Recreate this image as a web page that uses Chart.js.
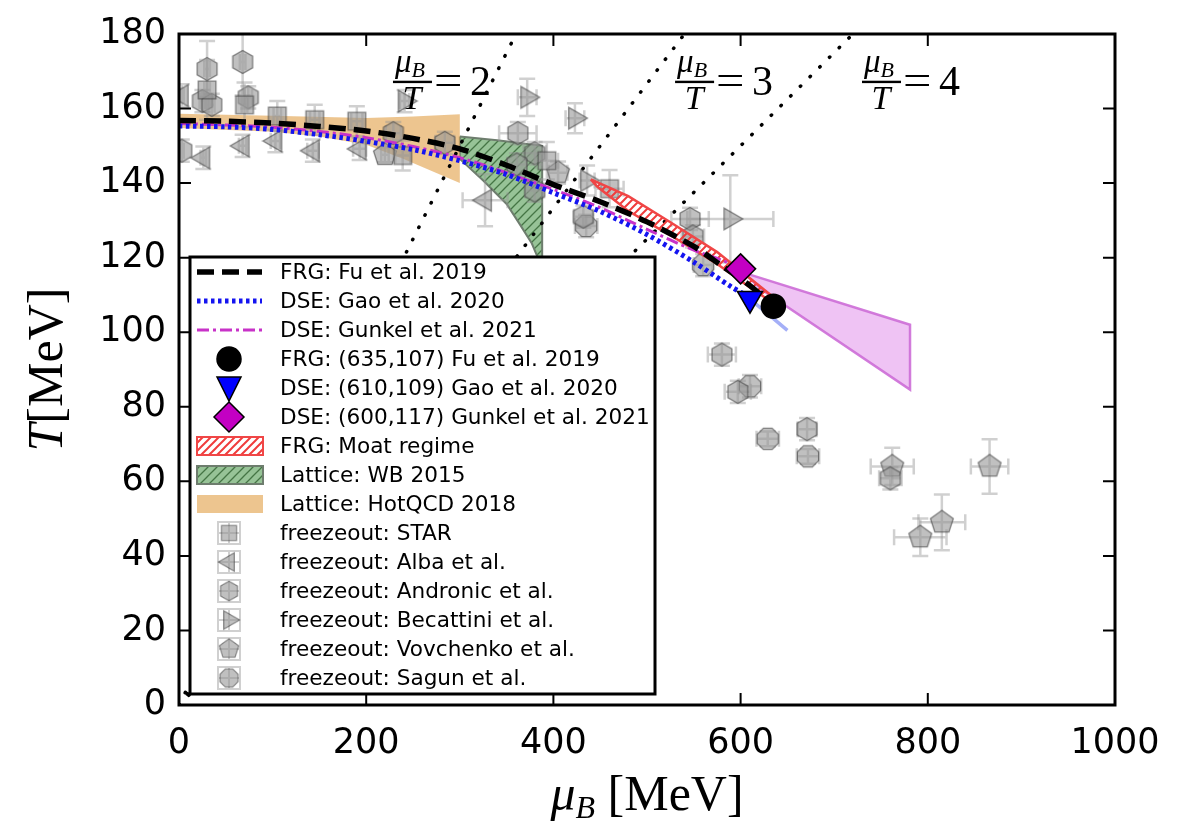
<!DOCTYPE html>
<html lang="en">
<head>
<meta charset="UTF-8">
<title>QCD phase diagram</title>
<script src="https://cdn.jsdelivr.net/npm/chart.js"></script>
<style>
  body { margin: 0; background: #fff; }
  canvas { display: block; }
</style>
</head>
<body>
<canvas id="phaseChart" width="1187" height="827"></canvas>
<script>
// transition lines (muB, T in MeV)
const frgMu = [0, 50, 100, 150, 200, 250, 300, 350, 400, 450, 500, 550, 580, 610, 635];
const frgT  = [156.8, 156.6, 156.1, 155.2, 154.0, 152.0, 149.2, 144.8, 139.6, 135.0, 129.6, 123.0, 117.8, 112.5, 107.0];
const gaoMu = [0, 50, 100, 150, 200, 250, 300, 350, 400, 450, 500, 550, 590, 610];
const gaoT  = [155.3, 155.1, 154.4, 153.0, 151.2, 149.0, 146.0, 142.3, 137.4, 132.4, 126.2, 118.8, 112.2, 109.3];
const gunkelMu = [0, 100, 200, 300, 400, 450, 500, 550, 580, 600];
const gunkelT  = [156.0, 155.0, 152.2, 146.8, 138.3, 133.4, 127.6, 122.0, 119.3, 117.0];
const gaoTailMu = [612, 650];
const gaoTailT  = [108.5, 100.5];

// critical end points
const frgCep = [635, 107];
const gaoCep = [610, 109];
const gunkelCep = [600, 117];

// bands, given as closed outlines (upper edge then lower edge)
const moatMu = [440, 480, 525, 575, 610, 632, 632, 610, 575, 525, 480, 447, 440];
const moatT  = [141, 136.5, 129.5, 121.5, 114.5, 110, 108.3, 112, 118.3, 126, 132.5, 139, 141];
const wbMu = [300, 340, 388, 388, 384, 377, 364, 350, 325, 300, 300];
const wbT  = [152.5, 151.5, 150, 112, 119.6, 123.8, 129, 134.4, 140.7, 146.5, 152.5];
const hotqcdMu = [0, 100, 200, 250, 300, 300, 240, 200, 150, 100, 0, 0];
const hotqcdT  = [158.6, 158.1, 157.5, 157.9, 158.5, 140, 146.5, 150.3, 152.5, 153.8, 154.8, 158.6];
const gunkelBandMu = [603, 781, 781, 622, 603];
const gunkelBandT  = [116, 102, 84.6, 111.5, 116];

// lines of constant muB/T
const ratioValues = [2, 3, 4];

// chemical freeze-out points with errors
const starMu = [30, 70, 105, 145, 190, 239, 393, 460];
const starT  = [165, 161, 158, 157, 156.6, 147.4, 146, 138.5];
const starErrMu = [3, 3, 4, 5, 6, 8, 12, 15];
const starErrT  = [8, 6, 4, 4, 4, 4, 5, 5];

const albaMu = [3, 26, 68, 103, 143, 193, 327];
const albaT  = [163.5, 146.8, 150, 151.3, 148.7, 149.2, 135.4];
const albaErrMu = [2, 3, 4, 5, 6, 7, 24];
const albaErrT  = [3, 3, 3, 3, 3, 3, 7];

const andronicMu = [3, 30, 68, 25, 35, 74, 229, 284, 362, 380, 361, 380, 432, 546, 549, 580, 597, 671, 760];
const andronicT  = [148.7, 170.6, 172.5, 162, 161, 163, 153.4, 150.8, 153.4, 148, 145, 138, 131, 130.4, 125.7, 94, 84, 74, 60.8];
const andronicErrMu = [2, 3, 3, 3, 3, 4, 8, 10, 20, 12, 10, 10, 10, 20, 12, 15, 14, 10, 12];
const andronicErrT  = [3, 7.5, 9, 3, 3, 3, 3, 3, 3, 3, 3, 3, 3, 3, 3, 3, 3, 3, 3];

const becattiniMu = [241, 372, 423, 436, 589];
const becattiniT  = [162, 163, 157.4, 140.7, 130.4];
const becattiniErrMu = [5, 10, 10, 8, 46];
const becattiniErrT  = [3, 5, 4, 4, 11.7];

const vovchenkoMu = [220, 405, 762, 792, 815, 866];
const vovchenkoT  = [147.6, 142.8, 64, 45, 49, 64];
const vovchenkoErrMu = [4, 10, 23, 28, 25, 20];
const vovchenkoErrT  = [2, 3, 5, 5, 7.5, 7.3];

const sagunMu = [435, 560, 610, 629, 672];
const sagunT  = [128.5, 118, 85.5, 71.4, 66.7];
const sagunErrMu = [12, 10, 12, 12, 12];
const sagunErrT  = [3, 3, 3, 2, 2];

const xTickStep = 200;
const yTickStep = 20;

// ---------------------------------------------------------------

const canvas = document.getElementById('phaseChart');
const ctx = canvas.getContext('2d');
const pts = (xs, ys) => xs.map((x, i) => ({ x: x, y: ys[i] }));

function hatch(bg, lineColor, lw, step) {
    const c = document.createElement('canvas');
    c.width = c.height = step;
    const g = c.getContext('2d');
    g.fillStyle = bg;
    g.fillRect(0, 0, step, step);
    g.strokeStyle = lineColor;
    g.lineWidth = lw;
    g.beginPath();
    g.moveTo(0, step); g.lineTo(step, 0);
    g.moveTo(-step / 2, step / 2); g.lineTo(step / 2, -step / 2);
    g.moveTo(step / 2, step * 1.5); g.lineTo(step * 1.5, step / 2);
    g.stroke();
    return ctx.createPattern(c, 'repeat');
}

// grey freeze-out markers drawn into small canvases
function markerCanvas(shape) {
    const c = document.createElement('canvas');
    c.width = c.height = 28;
    const g = c.getContext('2d');
    g.translate(14, 14);
    let n = 6, r = 11.5, rot = -Math.PI / 2;
    if (shape === 'square') { n = 4; r = 12.5; rot = Math.PI / 4; }
    if (shape === 'pentagon') { n = 5; r = 12; rot = -Math.PI / 2; }
    if (shape === 'octagon') { n = 8; r = 11.5; rot = Math.PI / 8; }
    if (shape === 'left') { n = 3; r = 12.5; rot = Math.PI; }
    if (shape === 'right') { n = 3; r = 12.5; rot = 0; }
    g.beginPath();
    for (let i = 0; i < n; i++) {
        const a = rot + i * 2 * Math.PI / n;
        if (i === 0) g.moveTo(r * Math.cos(a), r * Math.sin(a));
        else g.lineTo(r * Math.cos(a), r * Math.sin(a));
    }
    g.closePath();
    g.fillStyle = 'rgba(150,150,150,0.6)';
    g.fill();
    g.strokeStyle = 'rgba(60,60,60,0.6)';
    g.lineWidth = 1.3;
    g.stroke();
    return c;
}

const greenHatch = hatch('rgba(125,180,125,0.8)', 'rgba(55,105,55,0.85)', 1.3, 9);
const redHatch = hatch('rgba(255,255,255,0)', 'rgba(240,60,60,1)', 2, 8);

function band(label, xs, ys, fillStyle, edge, edgeWidth, order) {
    return {
        label: label, kind: 'patch',
        data: pts(xs, ys), showLine: true, fill: 'shape',
        backgroundColor: fillStyle, borderColor: edge, borderWidth: edgeWidth,
        pointRadius: 0, tension: 0, order: order
    };
}

function curve(label, xs, ys, color, width, dash, order) {
    return {
        label: label, kind: 'line',
        data: pts(xs, ys), showLine: true, fill: false,
        borderColor: color, borderWidth: width, borderDash: dash,
        pointRadius: 0, tension: 0.3, order: order
    };
}

function cep(label, p, style, rotation, radius, color) {
    return {
        label: label, kind: 'point',
        data: [{ x: p[0], y: p[1] }],
        pointStyle: style, rotation: rotation, pointRadius: radius,
        pointBackgroundColor: color, pointBorderColor: '#000', pointBorderWidth: 1.5,
        backgroundColor: color, order: 0
    };
}

function freezeout(label, xs, ys, ex, ey, shape) {
    return {
        label: label, kind: 'freeze',
        data: pts(xs, ys), errMu: ex, errT: ey,
        pointStyle: markerCanvas(shape), pointRadius: 12, order: 20
    };
}

const datasets = [
    curve('FRG: Fu et al. 2019', frgMu, frgT, '#000', 5.5, [17, 8], 10),
    curve('DSE: Gao et al. 2020', gaoMu, gaoT, 'rgb(20,20,240)', 5, [3.5, 3.5], 11),
    curve('DSE: Gunkel et al. 2021', gunkelMu, gunkelT, 'rgb(200,50,200)', 3, [12, 4, 3, 4], 12),
    cep('FRG: (635,107) Fu et al. 2019', frgCep, 'circle', 0, 12, '#000'),
    cep('DSE: (610,109) Gao et al. 2020', gaoCep, 'triangle', 180, 14.5, 'rgb(0,0,255)'),
    cep('DSE: (600,117) Gunkel et al. 2021', gunkelCep, 'rectRot', 0, 15, 'rgb(195,0,195)'),
    band('FRG: Moat regime', moatMu, moatT, redHatch, 'rgb(240,70,70)', 2.5, 15),
    band('Lattice: WB 2015', wbMu, wbT, greenHatch, 'rgb(110,125,110)', 2, 50),
    band('Lattice: HotQCD 2018', hotqcdMu, hotqcdT, 'rgba(230,172,95,0.7)', 'rgba(0,0,0,0)', 0, 49),
    freezeout('freezeout: STAR', starMu, starT, starErrMu, starErrT, 'square'),
    freezeout('freezeout: Alba et al.', albaMu, albaT, albaErrMu, albaErrT, 'left'),
    freezeout('freezeout: Andronic et al.', andronicMu, andronicT, andronicErrMu, andronicErrT, 'hexagon'),
    freezeout('freezeout: Becattini et al.', becattiniMu, becattiniT, becattiniErrMu, becattiniErrT, 'right'),
    freezeout('freezeout: Vovchenko et al.', vovchenkoMu, vovchenkoT, vovchenkoErrMu, vovchenkoErrT, 'pentagon'),
    freezeout('freezeout: Sagun et al.', sagunMu, sagunT, sagunErrMu, sagunErrT, 'octagon'),
    // not in the legend
    Object.assign(band('', gunkelBandMu, gunkelBandT, 'rgba(225,145,235,0.55)', 'rgba(205,110,215,0.9)', 2.5, 48), { kind: 'none' }),
    Object.assign(curve('', gaoTailMu, gaoTailT, 'rgba(90,110,240,0.55)', 3.5, [], 13), { kind: 'none' })
];

ratioValues.forEach(r => {
    datasets.push({
        label: '', kind: 'none',
        data: [{ x: 0, y: 0 }, { x: 180 * r, y: 180 }],
        showLine: true, borderColor: '#000', borderWidth: 3.5,
        borderDash: [0.5, 13.2], borderCapStyle: 'round',
        pointRadius: 0, order: 40
    });
});

// error bars under each freeze-out dataset
const errorBars = {
    id: 'errorBars',
    beforeDatasetDraw(chart, args) {
        const ds = chart.data.datasets[args.index];
        if (!ds.errMu) return;
        const { x, y } = chart.scales;
        const a = chart.chartArea;
        const c = chart.ctx;
        c.save();
        c.beginPath();
        c.rect(a.left, a.top, a.right - a.left, a.bottom - a.top);
        c.clip();
        c.strokeStyle = 'rgba(150,150,150,0.45)';
        c.lineWidth = 2.5;
        const cap = 8;
        ds.data.forEach((p, i) => {
            const px = x.getPixelForValue(p.x), py = y.getPixelForValue(p.y);
            const x1 = x.getPixelForValue(p.x - ds.errMu[i]), x2 = x.getPixelForValue(p.x + ds.errMu[i]);
            const y1 = y.getPixelForValue(p.y - ds.errT[i]), y2 = y.getPixelForValue(p.y + ds.errT[i]);
            c.beginPath();
            c.moveTo(x1, py); c.lineTo(x2, py);
            c.moveTo(px, y1); c.lineTo(px, y2);
            c.moveTo(x1, py - cap); c.lineTo(x1, py + cap);
            c.moveTo(x2, py - cap); c.lineTo(x2, py + cap);
            c.moveTo(px - cap, y1); c.lineTo(px + cap, y1);
            c.moveTo(px - cap, y2); c.lineTo(px + cap, y2);
            c.stroke();
        });
        c.restore();
    }
};

function drawFraction(c, x, yBar, rhs) {
    c.fillStyle = '#000';
    c.textAlign = 'left';
    c.textBaseline = 'alphabetic';
    c.font = 'italic 33px "Liberation Serif"';
    c.fillText('\u03bc', x + 2, yBar - 10);
    const muW = c.measureText('\u03bc').width;
    c.font = 'italic 22px "Liberation Serif"';
    c.fillText('B', x + 2 + muW, yBar - 5);
    c.font = 'italic 34px "Liberation Serif"';
    c.textAlign = 'center';
    c.fillText('T', x + 19, yBar + 27);
    c.fillRect(x, yBar - 1, 39, 2.4);
    c.textAlign = 'left';
    c.font = '42px "Liberation Serif"';
    c.save();
    c.translate(x + 41, yBar + 12);
    c.scale(1.2, 1);
    c.fillText('=', 0, 0);
    c.restore();
    c.fillText(rhs, x + 77, yBar + 13);
}

// frame with inward ticks, annotations, axis titles
const decorations = {
    id: 'decorations',
    afterDatasetsDraw(chart) {
        const c = chart.ctx;
        const a = chart.chartArea;
        const { x, y } = chart.scales;
        c.save();
        c.strokeStyle = '#000';
        c.lineWidth = 2;
        c.beginPath();
        x.ticks.forEach(t => {
            const px = x.getPixelForValue(t.value);
            c.moveTo(px, a.bottom); c.lineTo(px, a.bottom - 12);
            c.moveTo(px, a.top); c.lineTo(px, a.top + 12);
        });
        y.ticks.forEach(t => {
            const py = y.getPixelForValue(t.value);
            c.moveTo(a.left, py); c.lineTo(a.left + 12, py);
            c.moveTo(a.right, py); c.lineTo(a.right - 12, py);
        });
        c.stroke();
        c.lineWidth = 3;
        c.strokeRect(a.left, a.top, a.right - a.left, a.bottom - a.top);

        const fracMu = [228.6, 530, 729.7];
        ratioValues.forEach((r, i) => {
            drawFraction(c, x.getPixelForValue(fracMu[i]), y.getPixelForValue(167.2), String(r));
        });
        c.restore();
    },
    afterDraw(chart) {
        const c = chart.ctx;
        const a = chart.chartArea;
        c.save();
        c.fillStyle = '#000';
        c.textBaseline = 'alphabetic';
        // x title
        const cx = (a.left + a.right) / 2;
        c.font = 'italic 50px "Liberation Serif"';
        const wMu = c.measureText('\u03bc').width;
        c.font = 'italic 32px "Liberation Serif"';
        const wB = c.measureText('B').width;
        c.font = '50px "Liberation Serif"';
        const wRest = c.measureText(' [MeV]').width;
        let sx = cx - (wMu + wB + wRest) / 2;
        c.font = 'italic 50px "Liberation Serif"';
        c.fillText('\u03bc', sx, 810);
        c.font = 'italic 32px "Liberation Serif"';
        c.fillText('B', sx + wMu, 818);
        c.font = '50px "Liberation Serif"';
        c.fillText(' [MeV]', sx + wMu + wB, 810);
        // y title
        c.translate(62, (a.top + a.bottom) / 2);
        c.rotate(-Math.PI / 2);
        c.font = 'italic 50px "Liberation Serif"';
        const wT = c.measureText('T').width;
        c.font = '50px "Liberation Serif"';
        const wM = c.measureText('[MeV]').width;
        c.font = 'italic 50px "Liberation Serif"';
        c.fillText('T', -(wT + wM) / 2, 0);
        c.font = '50px "Liberation Serif"';
        c.fillText('[MeV]', -(wT + wM) / 2 + wT, 0);
        c.restore();
        drawLegend(chart);
    }
};

function drawLegend(chart) {
    const c = chart.ctx;
    const x0 = 190, y0 = 257, w = 465, h = 437;
    c.save();
    c.fillStyle = '#fff';
    c.fillRect(x0, y0, w, h);
    c.strokeStyle = '#000';
    c.lineWidth = 3;
    c.strokeRect(x0, y0, w, h);
    const items = chart.data.datasets.filter(d => d.kind !== 'none');
    items.forEach((d, i) => {
        const yy = 272 + i * 29;
        const mx = 229;
        c.save();
        if (d.kind === 'line') {
            c.strokeStyle = d.borderColor;
            c.lineWidth = d.borderWidth;
            c.setLineDash(d.borderDash);
            c.beginPath();
            c.moveTo(197, yy); c.lineTo(262, yy);
            c.stroke();
        } else if (d.kind === 'patch') {
            c.fillStyle = d.label.indexOf('Moat') >= 0 ? '#fff' : 'rgba(0,0,0,0)';
            c.fillRect(197, yy - 9, 66, 18);
            c.fillStyle = d.backgroundColor;
            c.fillRect(197, yy - 9, 66, 18);
            if (d.borderWidth) {
                c.strokeStyle = d.borderColor;
                c.lineWidth = 2;
                c.strokeRect(197, yy - 9, 66, 18);
            }
        } else if (d.kind === 'point') {
            c.fillStyle = d.pointBackgroundColor;
            c.strokeStyle = '#000';
            c.lineWidth = 1.5;
            c.beginPath();
            if (d.pointStyle === 'circle') {
                c.arc(mx, yy, 12, 0, Math.PI * 2);
            } else if (d.pointStyle === 'triangle') {
                c.moveTo(mx - 12, yy - 11); c.lineTo(mx + 12, yy - 11); c.lineTo(mx, yy + 13);
                c.closePath();
            } else {
                c.moveTo(mx, yy - 15); c.lineTo(mx + 15, yy); c.lineTo(mx, yy + 15); c.lineTo(mx - 15, yy);
                c.closePath();
            }
            c.fill();
            c.stroke();
        } else if (d.kind === 'freeze') {
            c.strokeStyle = 'rgba(150,150,150,0.45)';
            c.lineWidth = 2;
            c.beginPath();
            c.moveTo(mx - 11, yy); c.lineTo(mx + 11, yy);
            c.moveTo(mx, yy - 11); c.lineTo(mx, yy + 11);
            c.rect(mx - 11, yy - 11, 22, 22);
            c.stroke();
            const img = d.pointStyle;
            c.drawImage(img, mx - img.width / 2 * 0.85, yy - img.height / 2 * 0.85, img.width * 0.85, img.height * 0.85);
        }
        c.restore();
        c.fillStyle = '#000';
        c.font = '21.6px "DejaVu Sans"';
        c.textAlign = 'left';
        c.textBaseline = 'middle';
        c.fillText(d.label, 280, yy + 1);
    });
    c.restore();
}

const tickFont = { family: '"DejaVu Sans"', size: 35 };

new Chart(ctx, {
    type: 'scatter',
    data: { datasets: datasets },
    options: {
        responsive: false,
        animation: false,
        events: [],
        layout: { padding: { top: 25, right: 72, left: 0, bottom: 0 } },
        scales: {
            x: {
                type: 'linear', min: 0, max: 1000,
                ticks: { stepSize: xTickStep, font: tickFont, color: '#000', padding: 18, maxRotation: 0,
                         callback: v => String(v) },
                grid: { display: false, drawTicks: false },
                border: { display: false },
                afterFit: s => { s.height = 122; }
            },
            y: {
                type: 'linear', min: 0, max: 180,
                ticks: { stepSize: yTickStep, font: tickFont, color: '#000', padding: 13,
                         callback: v => String(v) },
                grid: { display: false, drawTicks: false },
                border: { display: false },
                afterFit: s => { s.width = 179; }
            }
        },
        plugins: {
            legend: { display: false },
            tooltip: { enabled: false }
        }
    },
    plugins: [errorBars, decorations]
});
</script>
</body>
</html>
